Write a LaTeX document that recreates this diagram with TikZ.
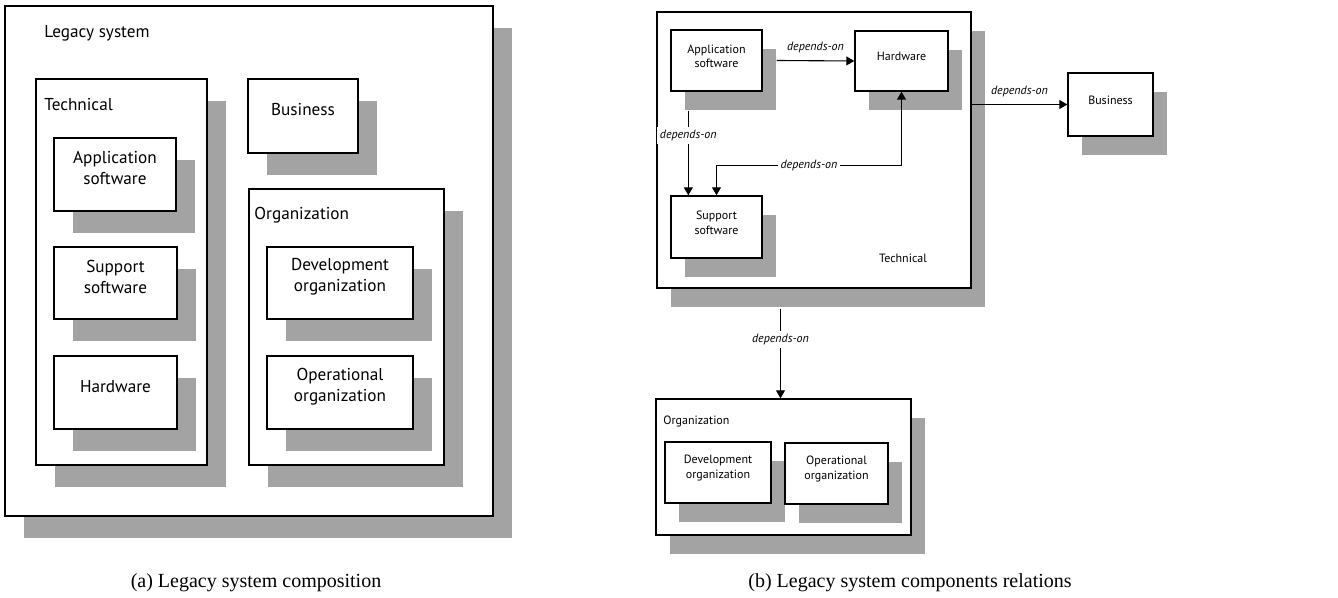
\documentclass[tikz,border=0pt]{standalone}
\usepackage{fontspec}
\setmainfont{Liberation Serif}
\newfontfamily\diagfont{PT Sans}
\usetikzlibrary{shadows,fit,arrows.meta,calc}
\definecolor{shadowgray}{gray}{0.64}

\begin{document}
\begin{tikzpicture}[x=0.5pt,y=-0.5pt,
  shadowA/.style={drop shadow={shadow xshift=9.5pt,shadow yshift=-11pt,fill=shadowgray,opacity=1}},
  shadowB/.style={drop shadow={shadow xshift=7pt,shadow yshift=-9.5pt,fill=shadowgray,opacity=1}},
  fontA/.style={font=\diagfont\fontsize{8.6}{10.4}\selectfont},
  fontB/.style={font=\diagfont\fontsize{6}{7.4}\selectfont},
  boxA/.style={draw, line width=0.85pt, fill=white, inner sep=0pt, shadowA, fontA, align=center},
  boxB/.style={draw, line width=0.7pt, fill=white, inner sep=0pt, shadowB, fontB, align=center},
  txtA/.style={inner sep=0pt, fontA},
  txtB/.style={inner sep=0pt, fontB},
  dep/.style={line width=0.55pt, -{Triangle[length=4pt,width=4.5pt]}},
  depboth/.style={line width=0.55pt, {Triangle[length=4pt,width=4.5pt]}-{Triangle[length=4pt,width=4.5pt]}},
  lbl/.style={fill=white, inner sep=1.5pt, font=\diagfont\itshape\fontsize{6}{7.4}\selectfont},
  lblabove/.style={above=2.5pt, inner sep=1pt, font=\diagfont\itshape\fontsize{6}{7.4}\selectfont},
  captiontext/.style={inner sep=0pt, font=\fontsize{10}{12}\selectfont}]

\useasboundingbox (0,0) rectangle (1338,598);

% ---- (a) composition ----
\node[boxA, fit={(5,6)(493,516)}] (legacy) {};
\node[txtA, anchor=west] (legacylbl) at (44,33) {Legacy system};

\node[boxA, fit={(36,79)(207,465)}] (techA) {};
\node[txtA, anchor=west] (techAlbl) at (44,105) {Technical};
\node[boxA, fit={(54,138)(176,211)}] (appA) {Application\\software};
\node[boxA, fit={(54,247)(177,319)}] (suppA) {Support\\software};
\node[boxA, fit={(54,356)(177,429)}] (hwA) {Hardware};

\node[boxA, fit={(248,79)(358,153)}] (busA) {Business};

\node[boxA, fit={(249,189)(444,465)}] (orgA) {};
\node[txtA, anchor=west] (orgAlbl) at (254,215) {Organization};
\node[boxA, fit={(267,247)(413,319)}] (devA) {Development\\organization};
\node[boxA, fit={(267,356)(413,429)}] (opA) {Operational\\organization};

\node[captiontext] (capA) at (256,583) {(a) Legacy system composition};

% ---- (b) relations ----
\node[boxB, fit={(657,12)(971,288)}] (techB) {};
\node[txtB] (techBlbl) at (903,258) {Technical};
\node[boxB, fit={(671,30)(762,91)}] (appB) {Application\\software};
\node[boxB, fit={(855,31)(948,91)}] (hwB) {Hardware};
\node[boxB, fit={(671,196)(762,258)}] (suppB) {Support\\software};

\node[boxB, fit={(1068,73)(1153,136)}] (busB) {Business};

\node[boxB, fit={(656,399)(911,535)}] (orgB) {};
\node[txtB, anchor=west] (orgBlbl) at (663,421) {Organization};
\node[boxB, fit={(665,442)(771,503)}] (devB) {Development\\organization};
\node[boxB, fit={(785,443)(888,504)}] (opB) {Operational\\organization};

\draw[dep] ($(appB.east)+(14,0)$) -- node[lblabove] {depends-on} (hwB.west);
\draw[dep] ($(appB.south west)+(18,19)$) -- node[lbl, pos=0.29] {depends-on} ($(suppB.north west)+(18,0)$);
\draw[depboth] (hwB.south) -- ($(hwB.south)+(0,74)$) -| node[lbl, pos=0.25] {depends-on} (suppB.north);
\draw[dep] (techB.east |- busB.west) -- node[lblabove] {depends-on} (busB.west);
\draw[dep] ($(techB.south -| orgB.north)+(-3,20)$) -- node[lbl, pos=0.34] {depends-on} ($(orgB.north)+(-3,0)$);

\node[captiontext] (capB) at (910,583) {(b) Legacy system components relations};
\end{tikzpicture}
\end{document}
